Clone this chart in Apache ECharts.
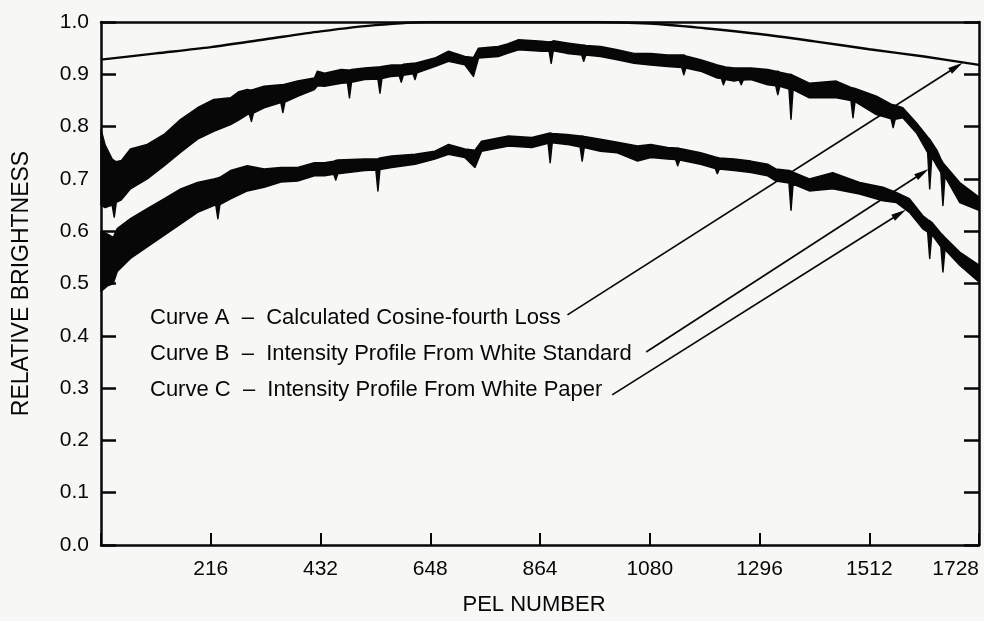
<!DOCTYPE html>
<html>
<head>
<meta charset="utf-8">
<script src="https://cdn.jsdelivr.net/npm/echarts@6/dist/echarts.min.js"></script>
<style>
html,body{margin:0;padding:0;background:#f7f7f5;}
#main{width:984px;height:621px;}
</style>
</head>
<body>
<div id="main"></div>
<script>
// ---- Data ----
const xMax = 1728, xStep = 216;
const legendLines = [
  'Curve A  \u2013  Calculated Cosine-fourth Loss',
  'Curve B  \u2013  Intensity Profile From White Standard',
  'Curve C  \u2013  Intensity Profile From White Paper'
];

// Curve A: calculated cosine-fourth loss
const pelA   = [0, 108, 216, 324, 432, 540, 648, 756, 864, 972, 1080, 1188, 1296, 1404, 1512, 1620, 1728];
const curveA = [0.928, 0.940, 0.952, 0.967, 0.982, 0.994, 1.000, 1.000, 1.000, 1.000, 0.997, 0.988, 0.977, 0.963, 0.948, 0.934, 0.918];

// Curve B: intensity profile from white standard (upper / lower edge of the noisy trace)
const pelB = [0, 8, 22, 26, 30, 40, 58, 91, 124, 157, 190, 222, 255, 270, 288, 292, 296, 300, 321, 354, 358, 362, 387, 420, 426, 440, 473, 485, 489, 493, 519, 545, 549, 553, 572, 587, 591, 595, 614, 618, 622, 657, 684, 716, 733, 743, 782, 800, 822, 868, 882, 886, 890, 917, 946, 950, 954, 983, 1016, 1049, 1082, 1115, 1143, 1147, 1151, 1180, 1213, 1221, 1225, 1229, 1246, 1256, 1260, 1264, 1279, 1312, 1328, 1332, 1336, 1354, 1358, 1362, 1394, 1447, 1476, 1480, 1484, 1526, 1555, 1559, 1563, 1578, 1605, 1627, 1631, 1635, 1645, 1653, 1657, 1661, 1690, 1728];
const bUpper = [0.795, 0.765, 0.738, 0.735, 0.733, 0.735, 0.757, 0.766, 0.785, 0.814, 0.836, 0.852, 0.855, 0.866, 0.871, 0.870, 0.870, 0.871, 0.877, 0.880, 0.880, 0.881, 0.887, 0.893, 0.906, 0.902, 0.909, 0.908, 0.908, 0.909, 0.912, 0.914, 0.914, 0.915, 0.918, 0.918, 0.918, 0.919, 0.921, 0.921, 0.922, 0.931, 0.944, 0.934, 0.932, 0.950, 0.953, 0.958, 0.966, 0.963, 0.962, 0.962, 0.964, 0.960, 0.956, 0.956, 0.955, 0.953, 0.947, 0.940, 0.940, 0.937, 0.937, 0.937, 0.935, 0.928, 0.918, 0.916, 0.915, 0.914, 0.912, 0.912, 0.912, 0.912, 0.912, 0.909, 0.906, 0.906, 0.904, 0.900, 0.900, 0.898, 0.883, 0.887, 0.875, 0.874, 0.873, 0.858, 0.843, 0.842, 0.841, 0.836, 0.807, 0.780, 0.776, 0.770, 0.755, 0.738, 0.731, 0.726, 0.693, 0.665];
const bLower = [0.650, 0.645, 0.650, 0.627, 0.655, 0.660, 0.681, 0.700, 0.725, 0.751, 0.776, 0.791, 0.804, 0.812, 0.823, 0.824, 0.810, 0.826, 0.836, 0.846, 0.827, 0.847, 0.858, 0.871, 0.878, 0.877, 0.883, 0.884, 0.855, 0.885, 0.890, 0.891, 0.864, 0.892, 0.896, 0.897, 0.885, 0.898, 0.901, 0.890, 0.903, 0.915, 0.925, 0.918, 0.896, 0.931, 0.934, 0.940, 0.947, 0.944, 0.944, 0.921, 0.945, 0.940, 0.937, 0.925, 0.937, 0.934, 0.928, 0.921, 0.918, 0.915, 0.913, 0.899, 0.912, 0.906, 0.893, 0.892, 0.880, 0.890, 0.887, 0.889, 0.880, 0.889, 0.890, 0.880, 0.878, 0.861, 0.877, 0.872, 0.814, 0.871, 0.855, 0.855, 0.850, 0.817, 0.848, 0.823, 0.815, 0.798, 0.814, 0.817, 0.788, 0.750, 0.681, 0.742, 0.725, 0.712, 0.649, 0.705, 0.655, 0.640];

// Curve C: intensity profile from white paper
const pelC = [0, 12, 24, 32, 58, 91, 124, 157, 190, 222, 226, 230, 234, 255, 288, 321, 354, 387, 420, 440, 458, 462, 466, 519, 541, 545, 549, 572, 618, 657, 684, 716, 736, 749, 802, 848, 880, 884, 888, 917, 943, 947, 951, 983, 1016, 1056, 1082, 1115, 1131, 1135, 1139, 1180, 1209, 1213, 1217, 1246, 1279, 1312, 1328, 1354, 1358, 1362, 1394, 1440, 1493, 1539, 1565, 1591, 1617, 1627, 1631, 1635, 1653, 1657, 1661, 1690, 1728];
const cUpper = [0.600, 0.595, 0.588, 0.605, 0.624, 0.643, 0.662, 0.681, 0.693, 0.700, 0.701, 0.702, 0.703, 0.716, 0.725, 0.719, 0.722, 0.722, 0.731, 0.731, 0.734, 0.735, 0.736, 0.738, 0.738, 0.738, 0.740, 0.744, 0.747, 0.753, 0.766, 0.757, 0.755, 0.772, 0.782, 0.779, 0.787, 0.788, 0.787, 0.785, 0.782, 0.782, 0.781, 0.776, 0.770, 0.763, 0.766, 0.760, 0.759, 0.759, 0.758, 0.750, 0.742, 0.741, 0.740, 0.738, 0.734, 0.728, 0.719, 0.716, 0.715, 0.713, 0.700, 0.712, 0.693, 0.684, 0.674, 0.662, 0.630, 0.622, 0.620, 0.617, 0.596, 0.592, 0.588, 0.560, 0.535];
const cLower = [0.485, 0.495, 0.500, 0.523, 0.548, 0.570, 0.592, 0.614, 0.636, 0.649, 0.650, 0.624, 0.651, 0.662, 0.677, 0.684, 0.694, 0.696, 0.706, 0.706, 0.709, 0.698, 0.710, 0.716, 0.717, 0.677, 0.718, 0.722, 0.728, 0.738, 0.747, 0.741, 0.722, 0.753, 0.763, 0.760, 0.768, 0.731, 0.769, 0.766, 0.761, 0.734, 0.760, 0.753, 0.750, 0.734, 0.741, 0.738, 0.737, 0.725, 0.736, 0.728, 0.720, 0.710, 0.719, 0.716, 0.712, 0.706, 0.696, 0.692, 0.640, 0.690, 0.677, 0.681, 0.671, 0.658, 0.655, 0.636, 0.605, 0.598, 0.548, 0.594, 0.570, 0.522, 0.565, 0.535, 0.503];

// ---- Chart ----
const INK = '#070707';
const FONT = '"Liberation Sans", Arial, sans-serif';
const chart = echarts.init(document.getElementById('main'), null, {renderer: 'canvas'});

// Noisy trace drawn as one filled band between its upper and lower edge
function bandSeries(name, pels, upper, lower) {
  return {
    name: name, type: 'custom', silent: true, z: 3,
    coordinateSystem: 'cartesian2d', xAxisIndex: 0, yAxisIndex: 0,
    encode: {x: 0, y: [1, 2]},
    data: pels.map((p, i) => [p, upper[i], lower[i]]),
    renderItem: function (params, api) {
      if (params.dataIndexInside !== 0) return null;
      const n = params.dataInsideLength;
      const top = [], bot = [];
      for (let j = 0; j < n; j++) {
        const x = api.value(0, j);
        top.push(api.coord([x, api.value(1, j)]));
        bot.push(api.coord([x, api.value(2, j)]));
      }
      const pts = top.concat(bot.reverse());
      return {
        type: 'polygon',
        shape: {points: pts},
        style: {fill: INK, stroke: INK, lineWidth: 1.5, lineJoin: 'round'}
      };
    }
  };
}

const option = {
  backgroundColor: '#f7f7f5',
  animation: false,
  grid: {left: 101, right: 5, top: 22, bottom: 73},
  xAxis: [
    {
      type: 'value', position: 'bottom', min: 0, max: xMax, interval: xStep,
      name: 'PEL NUMBER', nameLocation: 'middle', nameGap: 49,
      nameTextStyle: {fontSize: 22, color: INK, fontFamily: FONT, padding: [0, 12, 0, 0]},
      axisLine: {show: true, onZero: false, lineStyle: {color: INK, width: 2.5}},
      axisTick: {show: true, inside: true, length: 12, lineStyle: {color: INK, width: 2}},
      axisLabel: {fontSize: 21, color: INK, fontFamily: FONT, margin: 14,
        alignMaxLabel: 'right',
        formatter: v => (v === 0 ? '' : String(v))},
      splitLine: {show: false}
    },
    {
      type: 'value', position: 'top', min: 0, max: xMax, interval: xStep,
      axisLine: {show: true, onZero: false, lineStyle: {color: INK, width: 2.5}},
      axisTick: {show: false}, axisLabel: {show: false}, splitLine: {show: false}
    }
  ],
  yAxis: [
    {
      type: 'value', position: 'left', min: 0, max: 1, interval: 0.1,
      name: 'RELATIVE BRIGHTNESS', nameLocation: 'middle', nameGap: 68,
      nameTextStyle: {fontSize: 23, color: INK, fontFamily: FONT},
      axisLine: {show: true, onZero: false, lineStyle: {color: INK, width: 2.5}},
      axisTick: {show: true, inside: true, length: 15, lineStyle: {color: INK, width: 2.5}},
      axisLabel: {fontSize: 21, color: INK, fontFamily: FONT, margin: 12,
        formatter: v => v.toFixed(1)},
      splitLine: {show: false}
    },
    {
      type: 'value', position: 'right', min: 0, max: 1, interval: 0.1,
      axisLine: {show: true, onZero: false, lineStyle: {color: INK, width: 2.5}},
      axisTick: {show: true, inside: true, length: 15, lineStyle: {color: INK, width: 2.5}},
      axisLabel: {show: false}, splitLine: {show: false}
    }
  ],
  series: [
    {
      name: 'Curve A', type: 'line', silent: true, smooth: 0.3,
      data: pelA.map((p, i) => [p, curveA[i]]),
      symbol: 'none', lineStyle: {color: INK, width: 2.4}, z: 4
    },
    bandSeries('Curve B', pelB, bUpper, bLower),
    bandSeries('Curve C', pelC, cUpper, cLower)
  ]
};
chart.setOption(option);

// Legend text and pointer arrows (arrow ends in data coordinates)
const arrowEnds = [
  [[918, 0.440], [1696, 0.922]],
  [[1073, 0.369], [1629, 0.719]],
  [[1006, 0.287], [1584, 0.641]]
];
const legendY = [320, 356, 392];
const graphics = [];
legendLines.forEach((t, i) => {
  graphics.push({
    type: 'text', left: 150, top: legendY[i] - 13, silent: true,
    style: {text: t, fill: INK, font: '22px ' + FONT}
  });
});
arrowEnds.forEach(([a, b]) => {
  const p0 = chart.convertToPixel({gridIndex: 0}, a);
  const p1 = chart.convertToPixel({gridIndex: 0}, b);
  const dx = p1[0] - p0[0], dy = p1[1] - p0[1];
  const len = Math.sqrt(dx * dx + dy * dy);
  const ux = dx / len, uy = dy / len;
  const hl = 15, hw = 3.5;
  const bx = p1[0] - ux * hl, by = p1[1] - uy * hl;
  graphics.push({
    type: 'line', silent: true, z: 10,
    shape: {x1: p0[0], y1: p0[1], x2: bx + ux * 2, y2: by + uy * 2},
    style: {stroke: INK, lineWidth: 1.7}
  });
  graphics.push({
    type: 'polygon', silent: true, z: 10,
    shape: {points: [[p1[0], p1[1]], [bx - uy * hw, by + ux * hw], [bx + uy * hw, by - ux * hw]]},
    style: {fill: INK}
  });
});
chart.setOption({graphic: graphics});
</script>
</body>
</html>
